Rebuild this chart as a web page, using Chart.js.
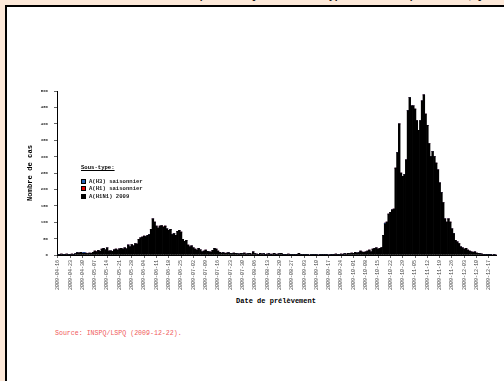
<!DOCTYPE html>
<html>
<head>
<meta charset="utf-8">
<script src="https://cdn.jsdelivr.net/npm/chart.js@4.4.0/dist/chart.umd.min.js"></script>
<style>
  body { margin: 0; width: 504px; height: 381px; overflow: hidden; background: #fde9d9; position: relative; }
  #sheet { position: absolute; left: 5px; top: 5px; width: 520px; height: 400px; background: #fff;
           border-left: 2px solid #000; border-top: 2px solid #000; }
  #title { position: absolute; left: 20px; top: -10px; font: bold 10px "Liberation Sans Narrow", "Liberation Sans"; color: #111; white-space: nowrap; }
  #wrap { position: absolute; left: 0; top: 0; width: 504px; height: 290px; }
  .txt { position: absolute; font-family: "Liberation Mono", monospace; white-space: nowrap; color: #000; }
  #ytitle { left: 30px; top: 173px; font-size: 7.2px; font-weight: bold; transform: translate(-50%, -50%) rotate(-90deg); }
  #xtitle { left: 276px; top: 301px; font-size: 7px; font-weight: bold; transform: translate(-50%, -50%); }
  #source { left: 55px; top: 333px; font-size: 6.6px; color: #f05a5a; transform: translateY(-50%); }
  #legend { left: 81px; top: 164px; font-size: 5.6px; }
  #legend .head { font-weight: bold; text-decoration: underline; margin-bottom: 7px; }
  #legend .item { height: 7.3px; line-height: 7.3px; font-weight: bold; color: #222; }
  #legend .sw { display: inline-block; width: 3px; height: 3px; border: 0.6px solid #000; margin-right: 3px; vertical-align: middle; }
</style>
</head>
<body>
<div id="sheet"></div>
<div id="title">Nombre de cas d'influenza confirmés par le LSPQ selon le sous-type et la date de prélèvement, Québec, 2009</div>
<div id="wrap"><canvas id="fluChart"></canvas></div>
<div class="txt" id="ytitle">Nombre de cas</div>
<div class="txt" id="xtitle">Date de prélèvement</div>
<div class="txt" id="legend"></div>
<div class="txt" id="source">Source: INSPQ/LSPQ (2009-12-22).</div>
<script>
// first day shown on the axis, one bar per day
const startDate = '2009-04-16';
const dayCount = 250;

// A(H1N1) 2009, daily counts (10 per row)
const h1n1Values = [
  2, 1, 3, 2, 2, 3, 1, 2, 3, 2,
  4, 7, 6, 8, 5, 6, 5, 4, 6, 5,
  8, 12, 10, 14, 11, 18, 20, 16, 22, 12,
  13, 11, 16, 18, 15, 19, 20, 18, 22, 19,
  30, 25, 32, 28, 35, 33, 48, 52, 55, 58,
  56, 60, 62, 78, 110, 100, 88, 82, 88, 90,
  85, 88, 80, 75, 78, 62, 65, 60, 72, 75,
  70, 48, 42, 45, 30, 25, 28, 22, 18, 15,
  20, 16, 10, 12, 15, 11, 10, 9, 14, 20,
  18, 12, 8, 6, 7, 5, 6, 7, 5, 4,
  6, 5, 4, 3, 5, 4, 6, 3, 4, 5,
  3, 10, 4, 3, 2, 5, 3, 4, 2, 3,
  4, 2, 3, 5, 2, 3, 4, 5, 2, 1,
  2, 3, 1, 2, 2, 1, 2, 5, 1, 2,
  1, 1, 2, 0, 1, 2, 1, 1, 0, 2,
  1, 1, 2, 1, 0, 1, 2, 1, 3, 2,
  2, 3, 2, 4, 3, 5, 4, 6, 5, 8,
  6, 7, 12, 9, 8, 10, 12, 15, 10, 18,
  20, 22, 18, 20, 23, 60, 95, 100, 125, 130,
  138, 140, 265, 312, 400, 250, 240, 245, 290, 440,
  480, 455, 455, 445, 410, 380, 410, 470, 488, 430,
  395, 340, 300, 315, 300, 280, 260, 220, 190, 160,
  110, 100, 110, 100, 80, 65, 45, 40, 35, 25,
  22, 18, 20, 15, 12, 10, 8, 10, 6, 5,
  4, 3, 2, 1, 2, 1, 2, 0, 1, 0
];

// seasonal strains: only a few small counts, stored as day index / value
const h3Days = [14, 15, 16, 40, 186];
const h3Counts = [2, 2, 1, 1, 2];
const h1Days = [22, 60];
const h1Counts = [1, 1];

const seriesNames = ['A(H3) saisonnier', 'A(H1) saisonnier', 'A(H1N1) 2009'];
const seriesColors = ['#2462b4', '#e00000', '#000000'];

const yTicksMax = 500;
const yTicksStep = 50;

// daily category labels
const days = [];
const d0 = new Date(startDate + 'T00:00:00Z');
for (let i = 0; i < dayCount; i++) {
  const d = new Date(d0.getTime() + i * 86400000);
  days.push(d.toISOString().slice(0, 10));
}

function sparse(idx, vals) {
  const out = days.map(() => 0);
  idx.forEach((k, j) => { out[k] = vals[j]; });
  return out;
}

const ctx = document.getElementById('fluChart').getContext('2d');
const fluChart = new Chart(ctx, {
  type: 'bar',
  data: {
    labels: days,
    datasets: [
      { label: seriesNames[2], data: h1n1Values, backgroundColor: seriesColors[2] },
      { label: seriesNames[0], data: sparse(h3Days, h3Counts), backgroundColor: seriesColors[0] },
      { label: seriesNames[1], data: sparse(h1Days, h1Counts), backgroundColor: seriesColors[1] }
    ]
  },
  options: {
    responsive: true,
    maintainAspectRatio: false,
    animation: false,
    barPercentage: 1,
    categoryPercentage: 1,
    layout: { padding: { top: 91, right: 7, left: 0, bottom: 0 } },
    plugins: { legend: { display: false }, tooltip: { enabled: false } },
    scales: {
      x: {
        stacked: true,
        afterFit: (scale) => { scale.height = 35; },
        border: { color: '#000', width: 1 },
        grid: {
          offset: false,
          drawOnChartArea: false,
          tickLength: 3,
          color: (c) => (c.index % 7 === 0 ? '#666' : 'rgba(0,0,0,0)')
        },
        ticks: {
          autoSkip: false,
          minRotation: 90,
          maxRotation: 90,
          padding: 2,
          color: '#444',
          font: { family: 'Liberation Mono', size: 5 },
          callback: (val, i) => (i % 7 === 0 ? days[i] : '')
        }
      },
      y: {
        stacked: true,
        min: 0,
        max: yTicksMax,
        afterFit: (scale) => { scale.width = 57; },
        border: { color: '#000', width: 1 },
        grid: { drawOnChartArea: false, tickLength: 3, color: '#666' },
        ticks: {
          stepSize: yTicksStep,
          padding: 6,
          color: '#333',
          font: { family: 'Liberation Mono', size: 4, weight: 'bold' }
        }
      }
    }
  }
});

// legend drawn as text over the plot
const legend = document.getElementById('legend');
legend.innerHTML = '<div class="head">Sous-type:</div>' +
  seriesNames.map((n, i) =>
    `<div class="item"><span class="sw" style="background:${seriesColors[i]}"></span>${n}</div>`
  ).join('');
</script>
</body>
</html>
